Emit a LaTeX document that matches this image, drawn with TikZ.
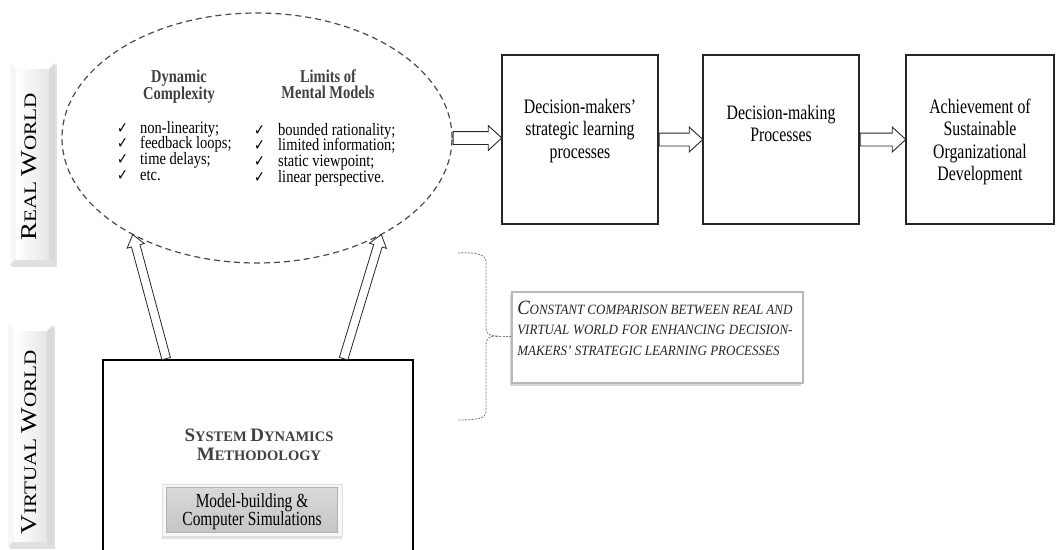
\documentclass[tikz,border=0pt]{standalone}
\usepackage{fontspec}
\setmainfont{Liberation Serif}
\newfontfamily\symbolfont{DejaVu Sans}
\usetikzlibrary{shapes.geometric,shapes.arrows,calc,shadows}

\definecolor{ink}{HTML}{262626}
\definecolor{headgray}{HTML}{404040}
\definecolor{dashgray}{HTML}{4A4A4A}
\definecolor{bracegray}{HTML}{7A7A7A}

% capitals of two sizes (small-caps look)
\newcommand\sz[2]{{\fontsize{#1}{#1}\selectfont #2}}
% check mark in front of a list item
\newcommand\tick[1]{\makebox[#1][l]{\symbolfont\fontsize{13}{10}\selectfont ✓}}

% bevelled side label bar: x1 y1 x2 y2
\newcommand\bevelbar[4]{%
  \fill[gray!40,opacity=.6] (#1+2,#2+2) rectangle (#3+2,#4+2);
  \fill[gray!12] (#1,#2) rectangle (#3,#4);
  \fill[white] (#1,#2) -- (#3,#2) -- (#3-6,#2+6) -- (#1+6,#2+6) -- cycle;
  \fill[gray!6] (#1,#2) -- (#1+6,#2+6) -- (#1+6,#4-6) -- (#1,#4) -- cycle;
  \fill[gray!30] (#3,#2) -- (#3,#4) -- (#3-6,#4-6) -- (#3-6,#2+6) -- cycle;
  \fill[gray!24] (#1,#4) -- (#3,#4) -- (#3-6,#4-6) -- (#1+6,#4-6) -- cycle;
  \shade[left color=white,right color=gray!20] (#1+6,#2+6) rectangle (#3-6,#4-6);
}

% hollow block arrow from one point to another: style, name, from, to
\newcommand\fatarrow[4]{%
  \path let \p1=(#3), \p2=(#4),
            \n1={atan2(\y2-\y1,\x2-\x1)}, \n2={veclen(\x2-\x1,\y2-\y1)} in
    node[#1, name=#2, rotate=\n1, minimum height=\n2, anchor=tail] at (\p1) {};}

\begin{document}
\begin{tikzpicture}[x=1pt,y=-1pt,
  ell/.style={ellipse, draw=dashgray, dash pattern=on 6pt off 4pt, line width=1.2pt,
              minimum width=390pt, minimum height=250pt, inner sep=0pt},
  procbox/.style={draw=ink, line width=1.3pt, fill=white, inner sep=0pt,
              minimum width=156pt, minimum height=169pt},
  sdbox/.style={draw=black, line width=2pt, inner sep=0pt,
              minimum width=310pt, minimum height=260pt},
  mbox/.style={draw=gray!25, fill=gray!6, line width=0.8pt, inner sep=0pt,
              minimum width=180pt, minimum height=52pt,
              drop shadow={shadow xshift=0pt, shadow yshift=-3pt, fill=gray!45, opacity=.5}},
  cbox/.style={draw=gray!55, fill=white, line width=1.2pt, inner sep=0pt,
              minimum width=291pt, minimum height=91pt,
              drop shadow={shadow xshift=-2.5pt, shadow yshift=-2.5pt, fill=gray!45, opacity=.7}},
  hfat/.style={single arrow, draw=ink, fill=white, line width=0.9pt, inner sep=0pt,
              inner ysep=6pt, minimum width=0pt, single arrow head extend=6pt,
              single arrow tip angle=85},
  vfat/.style={single arrow, draw=ink, fill=white, line width=0.8pt, inner sep=0pt,
              inner ysep=4pt, minimum width=0pt, single arrow head extend=4.5pt,
              single arrow tip angle=75},
  sidelabel/.style={rotate=90, inner sep=0pt, text=black,
              font=\fontsize{17.6}{20}\selectfont},
  boxtext/.style={inner sep=0pt, anchor=base, yscale=1.3, text=black,
              font=\fontsize{15.8}{17.4}\selectfont},
  headtext/.style={inner sep=0pt, anchor=base, yscale=1.25, text=headgray,
              font=\bfseries\fontsize{14.5}{12.8}\selectfont},
  listtext/.style={inner sep=0pt, anchor=base west, yscale=1.2, text=black,
              font=\fontsize{14.5}{13.1}\selectfont},
  sdtext/.style={inner sep=0pt, anchor=base, text=headgray,
              font=\bfseries\fontsize{14.5}{19.5}\selectfont},
  mbtext/.style={inner sep=0pt, anchor=base, yscale=1.3, text=black,
              font=\fontsize{15.4}{14.6}\selectfont},
  cmptext/.style={inner sep=0pt, anchor=base west, xscale=1.24, yscale=1.35, text=ink,
              font=\itshape\fontsize{10.5}{15.2}\selectfont},
  bracestyle/.style={draw=bracegray, line width=0.8pt, dash pattern=on 2pt off 1.3pt}
]
\useasboundingbox (0,0) rectangle (1057,549);
\clip (0,0) rectangle (1057,549);
\fill[white] (0,0) rectangle (1057,549);

% side bars
\bevelbar{10}{63}{55}{265}
\bevelbar{8}{325}{53}{547}
\node[sidelabel] (rw) at (29,167)
  {\scalebox{1.2}[1]{\sz{22.6}{R}\sz{17.6}{EAL} \sz{22.6}{W}\sz{17.6}{ORLD}}};
\node[sidelabel] (vw) at (29,442)
  {\scalebox{1.2}[1]{\sz{22.6}{V}\sz{17.6}{IRTUAL} \sz{22.6}{W}\sz{17.6}{ORLD}}};

% real world: dashed ellipse with its two lists
\node[ell] (ell) at (257,138) {};
\node[headtext] (hd) at (179,82) {\parbox[t]{110pt}{\centering Dynamic\\Complexity}};
\node[headtext] (hm) at (328,82) {\parbox[t]{120pt}{\centering Limits of\\Mental Models}};
\node[listtext] (ld) at (117,133) {\parbox[t]{122pt}{\lineskiplimit=-20pt
  \tick{23pt}non-linearity;\\
  \tick{23pt}feedback loops;\\
  \tick{23pt}time delays;\\
  \tick{23pt}etc.}};
\node[listtext] (lm) at (254,135) {\parbox[t]{150pt}{\lineskiplimit=-20pt
  \tick{24pt}bounded rationality;\\
  \tick{24pt}limited information;\\
  \tick{24pt}static viewpoint;\\
  \tick{24pt}linear perspective.}};

% process chain
\node[procbox] (b1) at (580,139.5) {};
\node[procbox] (b2) at (781,139.5) {};
\node[procbox, minimum width=148pt] (b3) at (980,139.5) {};
\node[boxtext] (t1) at (580,113) {\parbox[t]{150pt}{\centering Decision-makers’\\strategic learning\\processes}};
\node[boxtext] (t2) at (781,119) {\parbox[t]{150pt}{\centering Decision-making\\Processes}};
\node[boxtext] (t3) at (980,113) {\parbox[t]{145pt}{\centering Achievement of\\Sustainable\\Organizational\\Development}};

\fatarrow{hfat}{a1}{ell.east}{b1.west |- ell.east}
\fatarrow{hfat}{a2}{b1.east}{b2.west}
\fatarrow{hfat}{a3}{b2.east}{b3.west}

% virtual world: system dynamics box
\node[sdbox] (sd) at (258,490) {};
\node[sdtext] (st) at (259,441) {\parbox[t]{250pt}{\centering
  \sz{19}{S}\sz{14.5}{YSTEM} \sz{19}{D}\sz{14.5}{YNAMICS}\\
  \sz{19}{M}\sz{14.5}{ETHODOLOGY}}};
\node[mbox] (mb) at (252,510) {};
\shade[top color=gray!30, bottom color=gray!45, draw=gray!60, line width=0.6pt]
  ($(mb.north west)+(5,4)$) rectangle ($(mb.south east)+(-5,-4)$);
\node[mbtext] (mt) at (252,507) {\parbox[t]{170pt}{\centering Model-building \&\\Computer Simulations}};

\coordinate (u1s) at ($(sd.north west)!0.206!(sd.north east)$);
\coordinate (u2s) at ($(sd.north west)!0.774!(sd.north east)$);
\fatarrow{vfat}{u1}{u1s}{ell.218}
\fatarrow{vfat}{u2}{u2s}{ell.322}

% comparison note with its brace
\node[cbox] (cb) at (657.5,337.5) {};
\node[cmptext] (ct) at (517,314) {\parbox[t]{222pt}{%
  \makebox[222pt][s]{\sz{15}{C}ONSTANT COMPARISON BETWEEN REAL AND}\\
  \makebox[222pt][s]{VIRTUAL WORLD FOR ENHANCING DECISION-}\\
  MAKERS’ STRATEGIC LEARNING PROCESSES}};

\coordinate (bt) at (496,336);
\draw[bracestyle] (458,253) .. controls (478,252) and (486,255) .. (486,262)
  -- (486,328) .. controls (486,333) and (489,336) .. (bt)
  .. controls (489,336) and (486,339) .. (486,344)
  -- (486,412) .. controls (486,418) and (478,420) .. (458,420);
\draw[bracestyle] (bt) -- (bt -| cb.west);
\end{tikzpicture}
\end{document}
